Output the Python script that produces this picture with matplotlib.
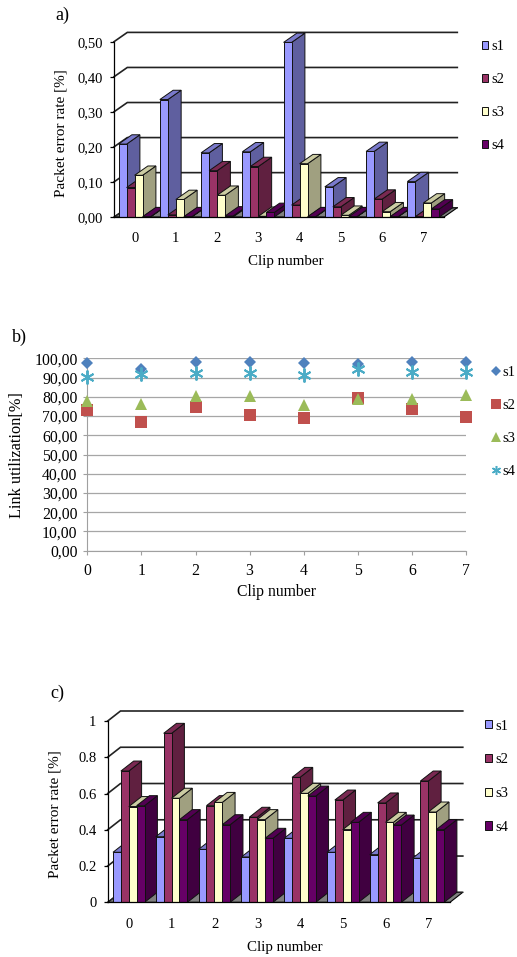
import matplotlib
matplotlib.use("Agg")
import matplotlib.pyplot as plt
from matplotlib.patches import Polygon, Patch
from matplotlib.lines import Line2D

plt.rcParams["font.family"] = ["Liberation Serif", "DejaVu Serif"]

W, H = 517, 957

# ================================
# Datos
# ================================
clips = [0, 1, 2, 3, 4, 5, 6, 7]
series_names = ["s1", "s2", "s3", "s4"]

a_s1 = [0.208, 0.335, 0.183, 0.186, 0.498, 0.086, 0.187, 0.101]
a_s2 = [0.084, 0.006, 0.132, 0.144, 0.034, 0.029, 0.051, 0.001]
a_s3 = [0.119, 0.050, 0.062, 0.002, 0.152, 0.005, 0.015, 0.040]
a_s4 = [0.001, 0.001, 0.003, 0.013, 0.001, 0.001, 0.001, 0.023]
a_ticks = [0.0, 0.1, 0.2, 0.3, 0.4, 0.5]
a_ticklabels = ["0,00", "0,10", "0,20", "0,30", "0,40", "0,50"]

b_s1 = [97.4, 94.5, 97.9, 97.9, 97.6, 97.0, 97.9, 98.1]
b_s2 = [73.1, 66.7, 74.9, 70.4, 69.2, 79.2, 73.8, 69.5]
b_s3 = [77.8, 76.1, 80.4, 80.2, 75.7, 79.0, 79.0, 81.1]
b_s4 = [90.5, 91.7, 92.5, 92.5, 91.3, 94.3, 92.9, 93.1]
b_ticks = [0, 10, 20, 30, 40, 50, 60, 70, 80, 90, 100]
b_ticklabels = ["0,00", "10,00", "20,00", "30,00", "40,00", "50,00",
                "60,00", "70,00", "80,00", "90,00", "100,00"]

c_s1 = [0.276, 0.362, 0.292, 0.250, 0.353, 0.276, 0.263, 0.243]
c_s2 = [0.724, 0.932, 0.533, 0.469, 0.689, 0.564, 0.548, 0.669]
c_s3 = [0.528, 0.574, 0.551, 0.456, 0.601, 0.401, 0.441, 0.498]
c_s4 = [0.533, 0.456, 0.428, 0.353, 0.586, 0.441, 0.426, 0.401]
c_ticks = [0, 0.2, 0.4, 0.6, 0.8, 1]
c_ticklabels = ["0", "0.2", "0.4", "0.6", "0.8", "1"]

# colores: frente, techo, lado
front_colors = ["#9999FF", "#993366", "#FFFFCC", "#660066"]
top_colors = ["#7A7ACC", "#7A2952", "#CCCCA3", "#520052"]
side_colors = ["#5F5F9F", "#602040", "#A0A080", "#400040"]
line_colors = ["#4F81BD", "#C0504D", "#9BBB59", "#4BACC6"]


fig = plt.figure(figsize=(W / 100, H / 100), dpi=100)


def add_axes_px(left, right, top, bottom):
    return fig.add_axes([left / W, 1 - bottom / H, (right - left) / W, (bottom - top) / H])


def text_px(x, y, s, **kw):
    kw.setdefault("ha", "center")
    kw.setdefault("va", "center")
    fig.text(x / W, 1 - y / H, s, **kw)


def legend_px(handles, x, y, spacing, **kw):
    fig.legend(handles, series_names, loc="upper left", bbox_to_anchor=(x / W, 1 - y / H),
               frameon=False, borderpad=0, borderaxespad=0, fontsize=10.5,
               labelspacing=spacing, **kw)


# ==========================================================
# Columnas 3D: se dibujan con polígonos en coordenadas de datos
# ==========================================================
def bars_3d(ax, data, ticks, ticklabels, dx_px, dy_px, bar_px, pad_px):
    x_scale = (ax.get_position().width * W) / len(clips)
    ymin, ymax = ticks[0], ticks[-1]
    y_scale = (ax.get_position().height * H) / (ymax - ymin)
    ax.set_xlim(0, len(clips))
    ax.set_ylim(ymin, ymax)
    dx = dx_px / x_scale
    dy = dy_px / y_scale
    bw = bar_px / x_scale
    pad = pad_px / x_scale

    # suelo
    ax.add_patch(Polygon([(0, 0), (len(clips), 0), (len(clips) + dx, dy), (dx, dy)],
                         facecolor="#808080", edgecolor="black", lw=0.8, clip_on=False, zorder=1))
    # rejilla de la pared
    for t in ticks[1:]:
        ax.plot([0, dx, len(clips) + dx], [t, t + dy, t + dy], color="#222222", lw=1.2,
                clip_on=False, zorder=1, solid_joinstyle="miter")
    ax.plot([0, dx, len(clips) + dx], [0, dy, dy], color="#222222", lw=1.0, clip_on=False, zorder=1)

    z = 2
    for i in range(len(clips)):
        for j, values in enumerate(data):
            v = values[i]
            x0 = i + pad + j * bw
            x1 = x0 + bw
            faces = [
                ([(x1, 0), (x1 + dx, dy), (x1 + dx, v + dy), (x1, v)], side_colors[j]),
                ([(x0, v), (x1, v), (x1 + dx, v + dy), (x0 + dx, v + dy)], top_colors[j]),
                ([(x0, 0), (x1, 0), (x1, v), (x0, v)], front_colors[j]),
            ]
            for pts, col in faces:
                ax.add_patch(Polygon(pts, facecolor=col, edgecolor="#111111", lw=0.7,
                                     clip_on=False, zorder=z, joinstyle="miter"))
                z += 1

    for s in ["top", "right"]:
        ax.spines[s].set_visible(False)
    for s in ["left", "bottom"]:
        ax.spines[s].set_linewidth(0.9)
        ax.spines[s].set_zorder(z + 1)
    ax.patch.set_alpha(0)
    ax.set_xticks([i + 0.5 for i in clips])
    ax.set_xticklabels(clips, fontsize=10.5)
    ax.tick_params(axis="x", length=0, pad=11)
    ax.set_yticks(ticks)
    ax.set_yticklabels(ticklabels, fontsize=10.5)
    ax.tick_params(axis="y", length=3, width=0.9, pad=5)


# ==========================================================
# GRAFICA a)
# ==========================================================
ax_a = add_axes_px(114, 444, 41.7, 217)
bars_3d(ax_a, [a_s1, a_s2, a_s3, a_s4], a_ticks, a_ticklabels, 13.3, 9.3, 8, 4.6)
text_px(62, 15, "a)", fontsize=13)
text_px(61, 133, "Packet error rate [%]", rotation=90, fontsize=11)
text_px(286, 261.5, "Clip number", fontsize=10.8)

square_handles = [Patch(facecolor=c, edgecolor="#111111", lw=0.7) for c in front_colors]
legend_px(square_handles, 481.5, 40.5, 1.36, handlelength=0.45, handleheight=0.45, handletextpad=0.2)

# ==========================================================
# GRAFICA b)
# ==========================================================
ax_b = add_axes_px(87.3, 466, 358.3, 550.7)
ax_b.set_xlim(0, 7)
ax_b.set_ylim(0, 100)
ax_b.set_yticks(b_ticks)
ax_b.set_yticklabels(b_ticklabels, fontsize=11.3)
ax_b.set_xticks(clips)
ax_b.set_xticklabels(clips, fontsize=11.3)
ax_b.grid(axis="y", color="#A6A6A6", lw=0.9)
ax_b.set_axisbelow(True)
for s in ["top", "right"]:
    ax_b.spines[s].set_visible(False)
for s in ["left", "bottom"]:
    ax_b.spines[s].set_color("#A0A0A0")
ax_b.tick_params(color="#A0A0A0", length=3, pad=4)
ax_b.tick_params(axis="x", pad=6)

b_series = [b_s1, b_s2, b_s3, b_s4]
b_markers = ["D", "s", "^", (6, 2, 0)]
b_sizes = [6.5, 9, 9, 10]
for k, values in enumerate(b_series):
    ax_b.plot(clips, values, linestyle="none", marker=b_markers[k], ms=b_sizes[k],
              color=line_colors[k], mew=1.4 if k == 3 else 0, clip_on=False, zorder=3 + k)

text_px(12, 337, "b)", fontsize=13, ha="left")
text_px(17.5, 455, "Link utilization[%]", rotation=90, fontsize=11.8)
text_px(276.5, 592.5, "Clip number", fontsize=11.3)

line_handles = [Line2D([], [], linestyle="none", marker=b_markers[k], ms=[4.8, 6.8, 6.5, 6.5][k],
                       color=line_colors[k], mew=1.1 if k == 3 else 0) for k in range(4)]
legend_px(line_handles, 491, 365.5, 1.36, handlelength=0.7, handletextpad=0.05)

# ==========================================================
# GRAFICA c)
# ==========================================================
ax_c = add_axes_px(107.7, 450, 721, 902.3)
bars_3d(ax_c, [c_s1, c_s2, c_s3, c_s4], c_ticks, c_ticklabels, 12.8, 10, 7.9, 5.3)
text_px(57.5, 693, "c)", fontsize=13)
text_px(55, 814, "Packet error rate [%]", rotation=90, fontsize=11)
text_px(285, 947.5, "Clip number", fontsize=10.8)

square_handles = [Patch(facecolor=c, edgecolor="#111111", lw=0.7) for c in front_colors]
legend_px(square_handles, 484.8, 719.5, 1.42, handlelength=0.5, handleheight=0.5, handletextpad=0.25)

fig.savefig("out.png", dpi=100)
